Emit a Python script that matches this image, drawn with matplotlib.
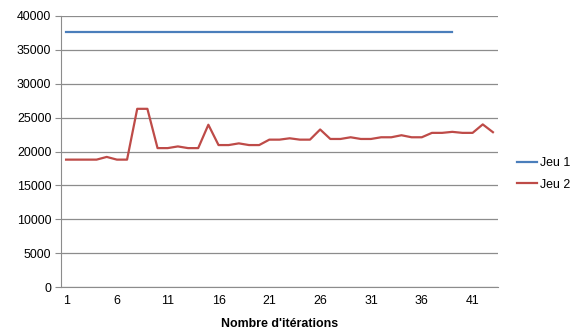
import numpy as np
import matplotlib
matplotlib.use("Agg")
import matplotlib.pyplot as plt

# data
iterations = list(range(1, 44))
jeu1 = [37700] * 39
jeu2 = [18800, 18800, 18800, 18800, 19200, 18800, 18800, 26300, 26300, 20500,
        20500, 20750, 20500, 20500, 23950, 20950, 20950, 21200, 20950, 20950,
        21750, 21750, 21950, 21750, 21750, 23250, 21850, 21850, 22100, 21850,
        21850, 22100, 22100, 22400, 22100, 22100, 22750, 22750, 22900, 22750,
        22750, 24000, 22850]
xticks = [1, 6, 11, 16, 21, 26, 31, 36, 41]
yticks = list(range(0, 40001, 5000))

plt.rcParams['font.family'] = ['Liberation Sans', 'DejaVu Sans']
plt.rcParams['font.size'] = 8.9

fig = plt.figure(figsize=(5.78, 3.36), dpi=100)
ax = fig.add_axes([61 / 578, 49 / 336, 437 / 578, 271 / 336])

ax.plot(iterations[:len(jeu1)], jeu1, color='#4A7EBB', lw=1.6, label='Jeu 1')
ax.plot(iterations, jeu2, color='#BE4B48', lw=1.6, label='Jeu 2')

ax.set_xlim(0.5, 43.5)
ax.set_ylim(0, 40000)
ax.set_yticks(yticks)
ax.set_xticks(xticks)
ax.yaxis.grid(True, color='#8C8C8C', lw=0.9)
ax.set_axisbelow(True)
for s in ['top', 'right']:
    ax.spines[s].set_visible(False)
for s in ['left', 'bottom']:
    ax.spines[s].set_color('#8C8C8C')
ax.tick_params(axis='y', length=4, color='#8C8C8C', pad=3)
ax.tick_params(axis='x', length=0, pad=6)

ax.set_xlabel("Nombre d'itérations", fontweight='bold', labelpad=8)

fig.legend(loc='center left', bbox_to_anchor=(517 / 578, 1 - 174 / 336),
           frameon=False, handlelength=1.6, handletextpad=0.25,
           labelspacing=0.75, borderpad=0, borderaxespad=0)

fig.savefig('out.png', dpi=100)
